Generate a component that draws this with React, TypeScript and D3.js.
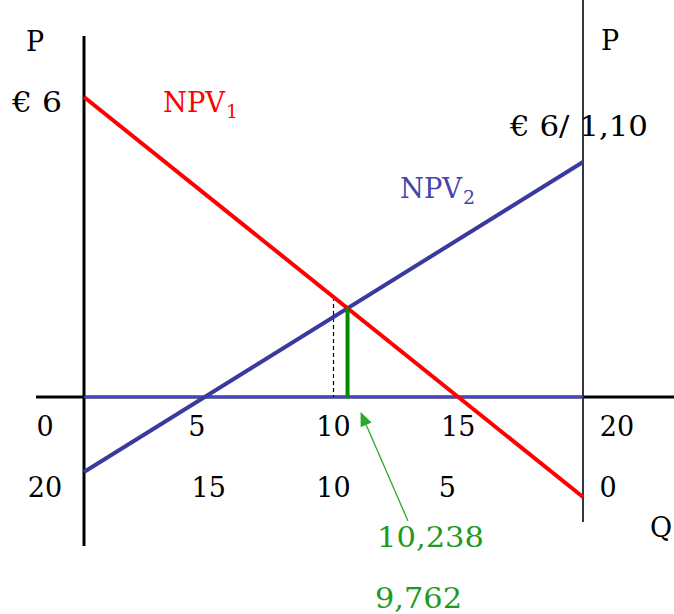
import React from "react";
import * as d3 from "d3";

const qTicks = [0, 5, 10, 15, 20];
const qTicksReverse = [20, 15, 10, 5, 0];
const npv1 = [
  { q: 0, p: 6 },
  { q: 20, p: -2 },
];
const npv2 = [
  { q: 0, p: -1.5 },
  { q: 20, p: 4.7 },
];
const dashedQ = 10;
const greenLabels = ["10,238", "9,762"];

const W = 674;
const H = 614;

export default function App() {
  const x = d3.scaleLinear().domain([0, 20]).range([84, 583]);
  const y = d3.scaleLinear().domain([0, 6]).range([397, 97]);
  const line = d3
    .line<{ q: number; p: number }>()
    .x((d) => x(d.q))
    .y((d) => y(d.p));

  // intersection of the two lines
  const s1 = (npv1[1].p - npv1[0].p) / (npv1[1].q - npv1[0].q);
  const s2 = (npv2[1].p - npv2[0].p) / (npv2[1].q - npv2[0].q);
  const qi = (npv2[0].p - npv1[0].p) / (s1 - s2);
  const pi = npv1[0].p + s1 * qi;
  const pDash = npv1[0].p + s1 * dashedQ;

  const font = "'DejaVu Serif', serif";
  const fs = 27;

  const row1Dx = (q: number, i: number) => (i === 0 ? -39 : i === 4 ? 34 : q === 5 ? -12 : 0);
  const row2Dx = (i: number) => (i === 0 ? -39 : i === 4 ? 25 : i === 3 ? -11 : 0);

  const arrowFrom = { x: 408, y: 521 };
  const arrowTo = { x: x(qi) + 13, y: y(0) + 15 };
  const ang = Math.atan2(arrowTo.y - arrowFrom.y, arrowTo.x - arrowFrom.x);
  const ah = 14, aw = 6;
  const bx = arrowTo.x - ah * Math.cos(ang);
  const by = arrowTo.y - ah * Math.sin(ang);
  const arrowHead = [
    [arrowTo.x, arrowTo.y],
    [bx + aw * Math.sin(ang), by - aw * Math.cos(ang)],
    [bx - aw * Math.sin(ang), by + aw * Math.cos(ang)],
  ]
    .map((p) => p.join(","))
    .join(" ");

  return (
    <svg
      width={W}
      height={H}
      style={{ position: "absolute", left: 0, top: 0, background: "#fff" }}
      fontFamily={font}
    >
      {/* black baseline */}
      <line x1={36} x2={674} y1={y(0)} y2={y(0)} stroke="#000" strokeWidth={3} />
      {/* left axis */}
      <line x1={x(0)} x2={x(0)} y1={36} y2={546} stroke="#000" strokeWidth={3} />
      {/* right axis */}
      <line x1={x(20)} x2={x(20)} y1={0} y2={522} stroke="#222" strokeWidth={1.8} />
      {/* blue zero line */}
      <line x1={x(0)} x2={x(20)} y1={y(0)} y2={y(0)} stroke="#4343cc" strokeWidth={2.5} />

      {/* dashed line at Q=10 */}
      <line
        x1={x(dashedQ)}
        x2={x(dashedQ)}
        y1={y(pDash)}
        y2={y(0)}
        stroke="#000"
        strokeWidth={1.2}
        strokeDasharray="4,3"
      />

      <path d={line(npv2) || ""} stroke="#3a3a9e" strokeWidth={4} fill="none" />
      <path d={line(npv1) || ""} stroke="#ff0000" strokeWidth={4} fill="none" />

      {/* green segment */}
      <line x1={x(qi)} x2={x(qi)} y1={y(pi)} y2={y(0)} stroke="#008a00" strokeWidth={4} />

      {/* arrow */}
      <line x1={arrowFrom.x} y1={arrowFrom.y} x2={bx} y2={by} stroke="#2ca82c" strokeWidth={1.3} />
      <polygon points={arrowHead} fill="#2ca82c" />

      {/* texts */}
      <g fontSize={fs} fill="#000">
        <text x={35} y={51} textAnchor="middle">P</text>
        <text x={610} y={50} textAnchor="middle">P</text>
        <text x={12} y={112} textLength={50} lengthAdjust="spacingAndGlyphs">€ 6</text>
        <text x={510} y={136} textLength={138} lengthAdjust="spacingAndGlyphs">€ 6/ 1,10</text>
        <text x={661} y={537} textAnchor="middle">Q</text>
        {qTicks.map((q, i) => (
          <text key={"a" + q} x={x(q) + row1Dx(q, i)} y={436} textAnchor="middle">
            {q}
          </text>
        ))}
        {qTicksReverse.map((v, i) => (
          <text key={"b" + v} x={x(20 - v) + row2Dx(i)} y={497} textAnchor="middle">
            {v}
          </text>
        ))}
      </g>
      <text x={163} y={112} fontSize={fs} fill="#ff0000">
        <tspan textLength={62} lengthAdjust="spacingAndGlyphs">NPV</tspan>
        <tspan fontSize={19} dy={6} dx={1}>1</tspan>
      </text>
      <text x={400} y={198} fontSize={fs} fill="#4646a8">
        <tspan textLength={62} lengthAdjust="spacingAndGlyphs">NPV</tspan>
        <tspan fontSize={19} dy={6} dx={1}>2</tspan>
      </text>
      <text x={377} y={547} fontSize={fs} fill="#1f9a1f" textLength={107} lengthAdjust="spacingAndGlyphs">
        {greenLabels[0]}
      </text>
      <text x={375} y={608} fontSize={fs} fill="#1f9a1f" textLength={87} lengthAdjust="spacingAndGlyphs">
        {greenLabels[1]}
      </text>
    </svg>
  );
}
